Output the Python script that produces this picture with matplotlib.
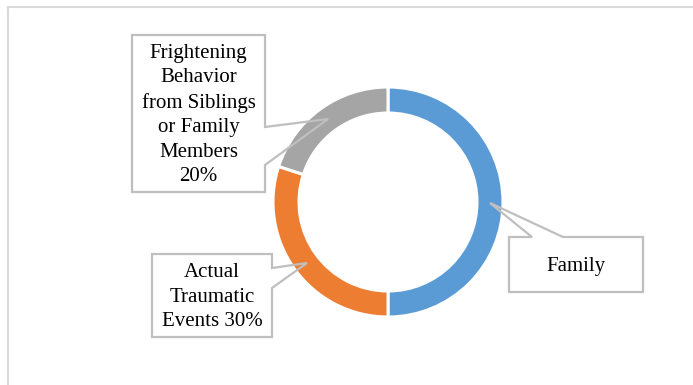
import matplotlib.pyplot as plt
from matplotlib.patches import Rectangle, Polygon

W, H = 693, 385

categories = ["Family", "Actual Traumatic Events",
              "Frightening Behavior from Siblings or Family Members"]
shares = [50, 30, 20]
colors = ["#5B9BD5", "#ED7D31", "#A5A5A5"]
label_texts = [
    "Family",
    "Actual\nTraumatic\nEvents {}%".format(shares[1]),
    "Frightening\nBehavior\nfrom Siblings\nor Family\nMembers\n{}%".format(shares[2]),
]

# callout geometry in pixel units measured from the top-left corner
boxes = [(509, 237, 643, 292), (152, 254, 272, 337), (132, 35, 265, 192)]
pointers = [
    ("top", (532, 563), (490, 203)),
    ("right", (268, 288), (307, 263)),
    ("right", (127, 165), (328, 119)),
]

plt.rcParams["font.family"] = ["Liberation Serif", "DejaVu Serif"]

fig = plt.figure(figsize=(W / 100, H / 100), dpi=100)
ax = fig.add_axes([0, 0, 1, 1])


def fy(y):
    return H - y


cx, cy, r_out, ring = 388, 202, 115, 26
ax.pie(shares, colors=colors, startangle=90, counterclock=False,
       center=(cx, fy(cy)), radius=r_out, frame=True,
       wedgeprops=dict(width=ring, edgecolor="white", linewidth=2.2))

edge = "#BFBFBF"
for (x0, y0, x1, y1), (side, base, tip), text in zip(boxes, pointers, label_texts):
    ax.add_patch(Rectangle((x0, fy(y1)), x1 - x0, y1 - y0, facecolor="white",
                           edgecolor="none", zorder=3))
    if side == "top":
        pts = [(x0, y0), (base[0], y0), tip, (base[1], y0), (x1, y0),
               (x1, y1), (x0, y1)]
    else:
        pts = [(x0, y0), (x1, y0), (x1, base[0]), tip, (x1, base[1]),
               (x1, y1), (x0, y1)]
    ax.add_patch(Polygon([(px, fy(py)) for px, py in pts], closed=True,
                         fill=False, edgecolor=edge, linewidth=1.6, zorder=4))
    ax.text((x0 + x1) / 2, fy((y0 + y1) / 2 + 1.5), text, ha="center", va="center",
            fontsize=15, linespacing=1.38, color="black", zorder=5)

# chart area frame (top and left edges visible)
ax.plot([8, W], [fy(7), fy(7)], color="#D9D9D9", linewidth=1.5, zorder=1)
ax.plot([8, 8], [fy(7), 0], color="#D9D9D9", linewidth=1.5, zorder=1)

ax.set_xlim(0, W)
ax.set_ylim(0, H)
ax.set_aspect("equal")
ax.axis("off")

fig.savefig("out.png", dpi=100, facecolor="white")
